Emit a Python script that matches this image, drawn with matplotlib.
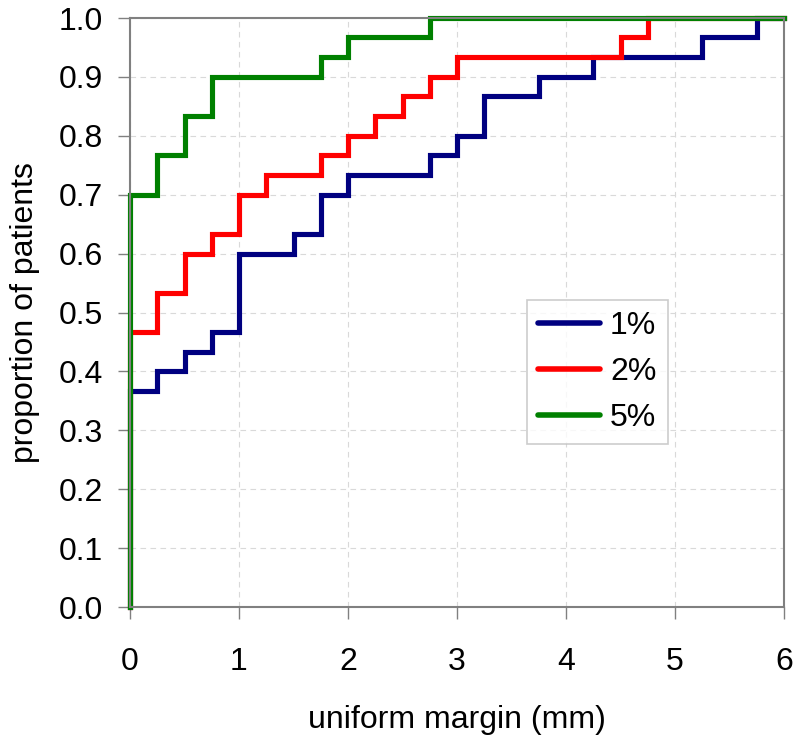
import matplotlib
matplotlib.use("Agg")
import matplotlib.pyplot as plt

plt.rcParams['font.family'] = ['Liberation Sans', 'DejaVu Sans']

# step edges (mm) and proportions
x1 = [0, 0, 0.25, 0.5, 0.75, 1.0, 1.5, 1.75, 2.0, 2.75, 3.0, 3.25, 3.75, 4.25, 5.25, 5.75, 6.0]
y1 = [0, 0.367, 0.4, 0.433, 0.467, 0.6, 0.633, 0.7, 0.733, 0.767, 0.8, 0.867, 0.9, 0.933, 0.967, 1.0, 1.0]
x2 = [0, 0, 0.25, 0.5, 0.75, 1.0, 1.25, 1.75, 2.0, 2.25, 2.5, 2.75, 3.0, 4.5, 4.75, 6.0]
y2 = [0, 0.467, 0.533, 0.6, 0.633, 0.7, 0.733, 0.767, 0.8, 0.833, 0.867, 0.9, 0.933, 0.967, 1.0, 1.0]
x5 = [0, 0, 0.25, 0.5, 0.75, 1.75, 2.0, 2.75, 6.0]
y5 = [0, 0.7, 0.767, 0.833, 0.9, 0.933, 0.967, 1.0, 1.0]

labels = ['1%', '2%', '5%']
colors = ['#000080', '#FF0000', '#008000']

fig = plt.figure(figsize=(8, 7.44), dpi=100)
ax = fig.add_axes([0.1625, 0.1841, 0.8175, 0.7917])

for xs, ys, lab, c in zip([x1, x2, x5], [y1, y2, y5], labels, colors):
    ax.step(xs, ys, where='post', color=c, lw=3.7, label=lab, clip_on=False,
            solid_joinstyle='miter')

ax.set_xlim(0, 6)
ax.set_ylim(0, 1)
ax.set_xticks(range(0, 7))
ax.set_yticks([i / 10 for i in range(11)])
ax.set_yticklabels([f"{i/10:.1f}" for i in range(11)])
ax.grid(True, color='#d9d9d9', ls=(0, (5, 4)), lw=0.8)
ax.set_axisbelow(True)
for s in ax.spines.values():
    s.set_color('#808080')
    s.set_linewidth(1.5)
ax.tick_params(axis='both', direction='out', color='#808080', length=8.5, width=1,
               labelsize=23)
ax.tick_params(axis='y', pad=11)
ax.tick_params(axis='x', pad=20)
ax.set_xlabel('uniform margin (mm)', fontsize=23)
ax.set_ylabel('proportion of patients', fontsize=23)
ax.xaxis.set_label_coords(0.5, (607 - 720) / 589, transform=ax.transAxes)
ax.xaxis.label.set_va('center')
ax.yaxis.set_label_coords((25 - 130) / 654, 0.5, transform=ax.transAxes)
ax.yaxis.label.set_va('center')

leg = ax.legend(loc='upper left', bbox_to_anchor=((527 - 130) / 654, (607 - 300) / 589),
                fontsize=23, frameon=True, fancybox=False,
                edgecolor='#c0c0c0', handlelength=1.95, borderpad=0.35,
                labelspacing=0.5, handletextpad=0.3, borderaxespad=0)
leg.get_frame().set_linewidth(1.2)
for l in leg.get_lines():
    l.set_linewidth(4)
    l.set_solid_capstyle('round')

fig.savefig('out.png', dpi=100)
